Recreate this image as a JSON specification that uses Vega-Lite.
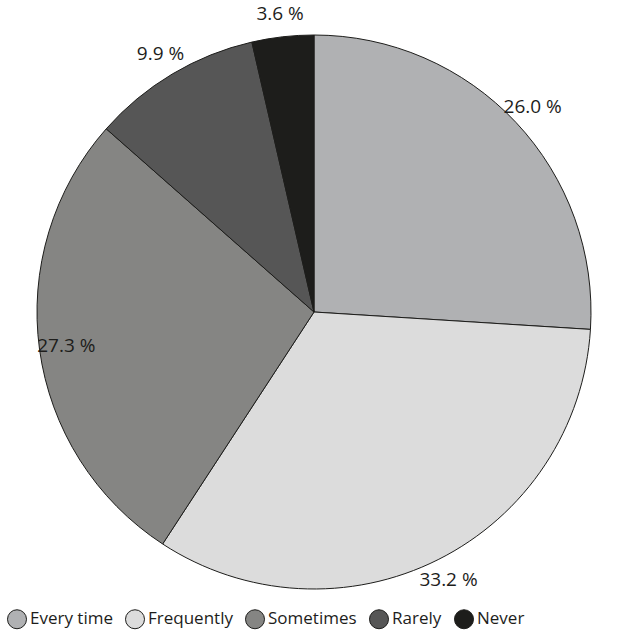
{
  "$schema": "https://vega.github.io/schema/vega-lite/v6.json",
  "autosize": {"type": "none"},
  "width": 614,
  "height": 584,
  "padding": {"left": 7, "top": 20, "right": 0, "bottom": 31},
  "background": "white",
  "config": {"view": {"stroke": null}, "font": "Open Sans"},
  "data": {
    "values": [
      {"category": "Every time", "percent": 26.0, "rank": 1, "label": "26.0 %"},
      {"category": "Frequently", "percent": 33.2, "rank": 2, "label": "33.2 %"},
      {"category": "Sometimes", "percent": 27.3, "rank": 3, "label": "27.3 %"},
      {"category": "Rarely", "percent": 9.9, "rank": 4, "label": "9.9 %"},
      {"category": "Never", "percent": 3.6, "rank": 5, "label": "3.6 %"}
    ]
  },
  "encoding": {
    "theta": {"field": "percent", "type": "quantitative", "stack": true},
    "order": {"field": "rank", "type": "quantitative"},
    "color": {
      "field": "category",
      "type": "nominal",
      "scale": {
        "domain": ["Every time", "Frequently", "Sometimes", "Rarely", "Never"],
        "range": ["#b0b1b3", "#dcdcdc", "#858583", "#565656", "#1d1d1b"]
      },
      "legend": {
        "orient": "bottom",
        "direction": "horizontal",
        "title": null,
        "symbolType": "circle",
        "symbolSize": 361,
        "symbolStrokeColor": "#1d1d1b",
        "symbolStrokeWidth": 1,
        "labelFontSize": 17,
        "labelColor": "#1d1d1b",
        "labelFont": "Open Sans",
        "columnPadding": 10,
        "symbolOffset": 0,
        "labelOffset": 3,
        "offset": 5
      }
    }
  },
  "layer": [
    {
      "mark": {"type": "arc", "outerRadius": 277, "stroke": "#1d1d1b", "strokeWidth": 1}
    },
    {
      "mark": {
        "type": "text",
        "radius": {"expr": "abs(sin(PI * (datum.percent_start + datum.percent_end) / 100)) > 0.95 ? 250 : 300"},
        "fontSize": 19,
        "fill": "#1d1d1b",
        "font": "Open Sans"
      },
      "encoding": {
        "text": {"field": "label", "type": "nominal"},
        "color": {"value": "#1d1d1b"}
      }
    }
  ]
}
